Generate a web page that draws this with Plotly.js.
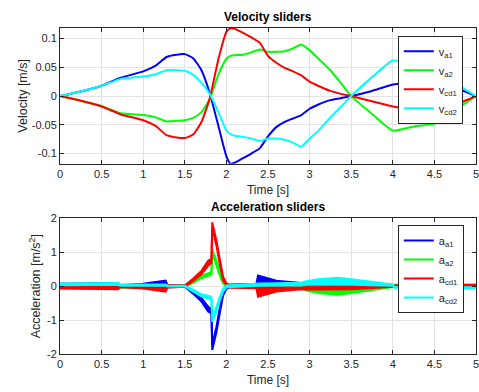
<!DOCTYPE html>
<html>
<head>
<meta charset="utf-8">
<script src="https://cdn.plot.ly/plotly-3.0.1.min.js"></script>
<style>
  html, body { margin: 0; padding: 0; background: #fff; }
  #chart { width: 479px; height: 392px; }
</style>
</head>
<body>
<div id="chart"></div>
<script>
// ---- Velocity of the four sliders [m/s] ----
const tVel = [0, 0.25, 0.5, 0.73, 1.0, 1.15, 1.28, 1.4, 1.5, 1.6, 1.7, 1.8, 1.9, 2.0, 2.05, 2.1, 2.2, 2.3, 2.4, 2.5, 2.6, 2.7, 2.8, 2.9, 3.0, 3.1, 3.25, 3.4, 3.5, 3.75, 4.0, 4.25, 4.5, 4.75, 5.0];
const vA1  = [0, 0.008, 0.018, 0.032, 0.043, 0.053, 0.068, 0.072, 0.073, 0.066, 0.045, 0.005, -0.050, -0.105, -0.118, -0.116, -0.108, -0.100, -0.091, -0.070, -0.054, -0.045, -0.039, -0.033, -0.022, -0.015, -0.007, -0.003, 0, 0.009, 0.020, 0.025, 0.030, 0.015, 0];
const vA2  = [0, -0.008, -0.017, -0.030, -0.033, -0.037, -0.044, -0.043, -0.042, -0.038, -0.028, -0.005, 0.036, 0.065, 0.070, 0.071, 0.072, 0.076, 0.081, 0.077, 0.077, 0.078, 0.083, 0.090, 0.080, 0.066, 0.045, 0.018, 0, -0.031, -0.060, -0.053, -0.048, -0.024, 0];
const vCD1 = [0, -0.008, -0.018, -0.032, -0.042, -0.052, -0.068, -0.072, -0.073, -0.067, -0.045, -0.004, 0.062, 0.112, 0.118, 0.117, 0.110, 0.102, 0.093, 0.070, 0.058, 0.049, 0.043, 0.036, 0.025, 0.018, 0.009, 0.003, 0, -0.009, -0.018, -0.024, -0.029, -0.015, 0];
const vCD2 = [0, 0.008, 0.018, 0.030, 0.034, 0.038, 0.045, 0.045, 0.044, 0.037, 0.023, 0.004, -0.027, -0.060, -0.066, -0.069, -0.071, -0.074, -0.078, -0.074, -0.074, -0.076, -0.081, -0.088, -0.074, -0.061, -0.037, -0.015, 0, 0.033, 0.062, 0.055, 0.048, 0.022, 0];

// ---- Acceleration of the four sliders [m/s^2], drawn as upper/lower envelopes of the noisy signal ----
const tAccA1 = [0, 0.70, 0.72, 1.00, 1.27, 1.29, 1.40, 1.50, 1.60, 1.70, 1.78, 1.82, 1.83, 1.86, 1.88, 1.92, 1.96, 2.00, 2.05, 2.36, 2.38, 2.60, 2.90, 3.20, 3.50, 4.00, 4.50, 5.00];
const aA1Up  = [0.07, 0.09, 0.03, 0.07, 0.16, 0.04, 0.03, 0.02, -0.15, -0.35, -0.60, -0.68, -1.72, -1.45, -1.20, -0.65, -0.18, -0.02, 0.05, 0.06, 0.31, 0.16, 0.09, 0.10, 0.09, 0.04, 0.03, 0.02];
const aA1Lo  = [0.03, 0.03, 0.00, 0.00, 0.00, -0.03, -0.02, -0.02, -0.22, -0.45, -0.75, -0.80, -1.88, -1.60, -1.35, -0.80, -0.28, -0.08, -0.02, 0.00, 0.00, 0.02, 0.03, 0.03, 0.03, 0.00, -0.01, -0.02];

const tAccCD1 = tAccA1;
const aCD1Up = [-0.02, -0.02, 0.00, 0.00, 0.00, 0.03, 0.02, 0.02, 0.22, 0.45, 0.75, 0.80, 1.88, 1.60, 1.35, 0.80, 0.28, 0.08, 0.02, 0.00, 0.00, -0.02, -0.03, -0.02, -0.02, 0.02, 0.04, 0.04];
const aCD1Lo = [-0.07, -0.09, -0.03, -0.07, -0.16, -0.04, -0.03, -0.02, 0.15, 0.35, 0.60, 0.68, 1.72, 1.45, 1.20, 0.65, 0.18, 0.02, -0.05, -0.06, -0.31, -0.16, -0.09, -0.10, -0.09, -0.02, 0.00, 0.00];

const tAccA2 = [0, 0.70, 0.72, 1.27, 1.29, 1.50, 1.60, 1.70, 1.80, 1.82, 1.83, 1.86, 1.88, 1.92, 1.96, 2.00, 2.40, 2.90, 2.95, 3.10, 3.35, 3.50, 4.00, 4.02, 4.50, 5.00];
const aA2Up  = [-0.02, -0.02, -0.01, -0.01, 0.02, 0.02, 0.16, 0.30, 0.40, 0.42, 1.07, 0.90, 0.75, 0.42, 0.16, 0.03, 0.05, 0.04, -0.02, -0.06, -0.07, -0.06, -0.01, 0.04, 0.05, 0.04];
const aA2Lo  = [-0.06, -0.07, -0.04, -0.04, -0.01, -0.01, 0.10, 0.24, 0.32, 0.34, 0.95, 0.78, 0.62, 0.32, 0.08, -0.02, 0.00, -0.02, -0.12, -0.20, -0.25, -0.20, -0.03, 0.01, 0.02, 0.02];

const tAccCD2 = tAccA2;
const aCD2Up = [0.08, 0.09, 0.05, 0.05, 0.02, 0.01, -0.10, -0.24, -0.30, -0.32, -0.95, -0.78, -0.62, -0.32, -0.08, 0.02, 0.08, 0.10, 0.14, 0.20, 0.25, 0.20, 0.05, -0.02, -0.03, -0.03];
const aCD2Lo = [0.03, 0.04, 0.01, 0.02, -0.01, -0.01, -0.16, -0.30, -0.38, -0.40, -1.05, -0.90, -0.75, -0.42, -0.16, -0.03, 0.01, 0.02, 0.04, 0.05, 0.05, 0.04, 0.01, -0.05, -0.06, -0.06];

const velTicks = [-0.1, -0.05, 0, 0.05, 0.1];
const velTickText = ['-0.1', '-0.05', '0', '0.05', '0.1'];
const accTicks = [-2, -1, 0, 1, 2];
const accTickText = ['-2', '-1', '0', '1', '2'];
const timeTicks = [0, 0.5, 1, 1.5, 2, 2.5, 3, 3.5, 4, 4.5, 5];

const BLUE = '#0000ff', GREEN = '#00ff00', RED = '#ff0000', CYAN = '#00ffff';
const FONT = 'Liberation Sans, Arial, Helvetica, sans-serif';
const AX = '#262626';

function velTrace(y, name, color) {
  return { x: tVel, y: y, name: name, type: 'scatter', mode: 'lines',
           line: { color: color, width: 2, shape: 'spline', smoothing: 0.5 },
           xaxis: 'x', yaxis: 'y', legend: 'legend' };
}

function accBand(t, lo, up, name, color) {
  return [
    { x: t, y: lo, name: name, type: 'scatter', mode: 'lines',
      line: { color: color, width: 2 }, xaxis: 'x2', yaxis: 'y2', legend: 'legend2' },
    { x: t, y: up, name: name, type: 'scatter', mode: 'lines', fill: 'tonexty', fillcolor: color,
      line: { color: color, width: 2 }, xaxis: 'x2', yaxis: 'y2', showlegend: false }
  ];
}

const data = [
  velTrace(vA1, 'v<sub>a1</sub>', BLUE),
  velTrace(vA2, 'v<sub>a2</sub>', GREEN),
  velTrace(vCD1, 'v<sub>cd1</sub>', RED),
  velTrace(vCD2, 'v<sub>cd2</sub>', CYAN),
  ...accBand(tAccA1, aA1Lo, aA1Up, 'a<sub>a1</sub>', BLUE),
  ...accBand(tAccA2, aA2Lo, aA2Up, 'a<sub>a2</sub>', GREEN),
  ...accBand(tAccCD1, aCD1Lo, aCD1Up, 'a<sub>cd1</sub>', RED),
  ...accBand(tAccCD2, aCD2Lo, aCD2Up, 'a<sub>cd2</sub>', CYAN)
];

function xAxis(anchor) {
  return {
    anchor: anchor, range: [0, 5], tickvals: timeTicks,
    showgrid: true, gridcolor: '#e3e3e3', gridwidth: 1, zeroline: false,
    showline: true, linecolor: AX, linewidth: 1, mirror: 'ticks',
    ticks: 'inside', ticklen: 4, tickcolor: AX, ticklabeloverflow: 'allow',
    tickfont: { family: FONT, size: 11, color: AX },
    title: { text: 'Time [s]', font: { family: FONT, size: 12, color: AX }, standoff: 6 }
  };
}

function yAxis(anchor, domain, range, vals, text, title, standoff) {
  return {
    anchor: anchor, domain: domain, range: range, tickvals: vals, ticktext: text,
    showgrid: true, gridcolor: '#e3e3e3', gridwidth: 1, zeroline: false,
    showline: true, linecolor: AX, linewidth: 1, mirror: 'ticks',
    ticks: 'inside', ticklen: 4, tickcolor: AX,
    tickfont: { family: FONT, size: 11, color: AX },
    title: { text: title, font: { family: FONT, size: 12.5, color: AX }, standoff: standoff }
  };
}

const legendStyle = {
  bgcolor: '#ffffff', bordercolor: AX, borderwidth: 1,
  font: { family: FONT, size: 11, color: AX },
  xanchor: 'left', yanchor: 'top', itemwidth: 30, tracegroupgap: 0,
  traceorder: 'normal'
};

const layout = {
  width: 479, height: 392,
  margin: { l: 60, r: 3, t: 28, b: 38 },
  paper_bgcolor: '#ffffff', plot_bgcolor: '#ffffff',
  font: { family: FONT, color: AX },
  showlegend: true,
  xaxis: Object.assign(xAxis('y'), { domain: [0, 1] }),
  yaxis: yAxis('x', [0.5837, 1], [-0.1177, 0.1185], velTicks, velTickText, 'Velocity [m/s]', 1),
  xaxis2: Object.assign(xAxis('y2'), { domain: [0, 1] }),
  yaxis2: yAxis('x2', [0, 0.4163], [-2, 2], accTicks, accTickText, 'Acceleration [m/s<sup>2</sup>]', 3),
  legend: Object.assign({}, legendStyle, { x: 0.812, y: 0.976 }),
  legend2: Object.assign({}, legendStyle, { x: 0.812, y: 0.396 }),
  annotations: [
    { text: '<b>Velocity sliders</b>', xref: 'paper', yref: 'paper', x: 0.5, y: 1,
      xanchor: 'center', yanchor: 'bottom', yshift: 2, showarrow: false,
      font: { family: FONT, size: 12, color: '#000000' } },
    { text: '<b>Acceleration sliders</b>', xref: 'paper', yref: 'paper', x: 0.5, y: 0.4163,
      xanchor: 'center', yanchor: 'bottom', yshift: 2, showarrow: false,
      font: { family: FONT, size: 12, color: '#000000' } }
  ]
};

Plotly.newPlot('chart', data, layout, { displayModeBar: false, staticPlot: true });
</script>
</body>
</html>
